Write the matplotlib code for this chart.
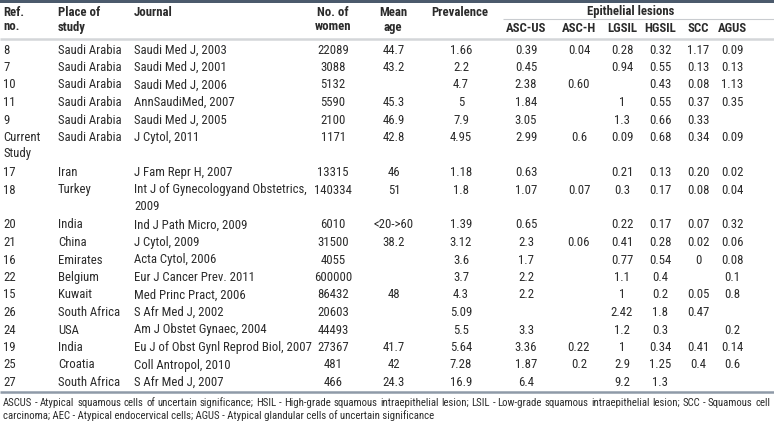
import matplotlib
matplotlib.use("Agg")
import matplotlib.pyplot as plt
from matplotlib import font_manager as fm

# register narrow / condensed faces that may not be in the cache yet
for path in fm.findSystemFonts():
    low = path.lower()
    if "narrow" in low or "condensed" in low:
        try:
            fm.fontManager.addfont(path)
        except Exception:
            pass
names = {f.name for f in fm.fontManager.ttflist}
STRETCH = "normal"
FAM = None
for cand in ["Roboto Condensed", "PT Sans Narrow", "Liberation Sans Narrow", "Archivo Narrow"]:
    if cand in names:
        FAM = [cand, "DejaVu Sans"]
        break
if FAM is None:
    FAM = ["DejaVu Sans"]
    STRETCH = "condensed"

# ---------------- data ----------------
refs = ["8", "7", "10", "11", "9", "Current\nStudy", "17", "18", "20", "21", "16",
        "22", "15", "26", "24", "19", "25", "27"]
places = ["Saudi Arabia", "Saudi Arabia", "Saudi Arabia", "Saudi Arabia", "Saudi Arabia",
          "Saudi Arabia", "Iran", "Turkey", "India", "China", "Emirates", "Belgium",
          "Kuwait", "South Africa", "USA", "India", "Croatia", "South Africa"]
journals = ["Saudi Med J, 2003", "Saudi Med J, 2001", "Saudi Med J, 2006",
            "AnnSaudiMed, 2007", "Saudi Med J, 2005", "J Cytol, 2011",
            "J Fam Repr H, 2007", "Int J of Gynecologyand Obstetrics,\n2009",
            "Ind J Path Micro, 2009", "J Cytol, 2009", "Acta Cytol, 2006",
            "Eur J Cancer Prev. 2011", "Med Princ Pract, 2006", "S Afr Med J, 2002",
            "Am J Obstet Gynaec, 2004", "Eu J of Obst Gynl Reprod Biol, 2007",
            "Coll Antropol, 2010", "S Afr Med J, 2007"]
women = ["22089", "3088", "5132", "5590", "2100", "1171", "13315", "140334", "6010",
         "31500", "4055", "600000", "86432", "20603", "44493", "27367", "481", "466"]
mean_age = ["44.7", "43.2", "", "45.3", "46.9", "42.8", "46", "51", "<20->60", "38.2",
            "", "", "48", "", "", "41.7", "42", "24.3"]
prevalence = ["1.66", "2.2", "4.7", "5", "7.9", "4.95", "1.18", "1.8", "1.39", "3.12",
              "3.6", "3.7", "4.3", "5.09", "5.5", "5.64", "7.28", "16.9"]
asc_us = ["0.39", "0.45", "2.38", "1.84", "3.05", "2.99", "0.63", "1.07", "0.65", "2.3",
          "1.7", "2.2", "2.2", "", "3.3", "3.36", "1.87", "6.4"]
asc_h = ["0.04", "", "0.60", "", "", "0.6", "", "0.07", "", "0.06", "", "", "", "", "",
         "0.22", "0.2", ""]
lgsil = ["0.28", "0.94", "", "1", "1.3", "0.09", "0.21", "0.3", "0.22", "0.41", "0.77",
         "1.1", "1", "2.42", "1.2", "1", "2.9", "9.2"]
hgsil = ["0.32", "0.55", "0.43", "0.55", "0.66", "0.68", "0.13", "0.17", "0.17", "0.28",
         "0.54", "0.4", "0.2", "1.8", "0.3", "0.34", "1.25", "1.3"]
scc = ["1.17", "0.13", "0.08", "0.37", "0.33", "0.34", "0.20", "0.08", "0.07", "0.02",
       "0", "", "0.05", "0.47", "", "0.41", "0.4", ""]
agus = ["0.09", "0.13", "1.13", "0.35", "", "0.09", "0.02", "0.04", "0.32", "0.06",
        "0.08", "0.1", "0.8", "", "0.2", "0.14", "0.6", ""]

lesion_headers = ["ASC-US", "ASC-H", "LGSIL", "HGSIL", "SCC", "AGUS"]
footnote = ("ASCUS - Atypical squamous cells of uncertain significance; HSIL - High-grade squamous "
            "intraepithelial lesion; LSIL - Low-grade squamous intraepithelial lesion; SCC - Squamous cell",
            "carcinoma; AEC - Atypical endocervical cells; AGUS - Atypical glandular cells of uncertain significance")

# ---------------- layout ----------------
W, H = 774, 424
fig = plt.figure(figsize=(W / 100, H / 100), dpi=100)
ax = fig.add_axes([0, 0, 1, 1])
ax.set_xlim(0, W)
ax.set_ylim(H, 0)
ax.axis("off")

TXT = "#2b2b2b"
FS = 9.2
kw = dict(family=FAM, fontstretch=STRETCH, color=TXT)

columns = [
    (refs, 3, "left"), (places, 58, "left"), (journals, 134, "left"),
    (women, 333, "center"), (mean_age, 394, "center"), (prevalence, 461, "center"),
    (asc_us, 526, "center"), (asc_h, 579, "center"), (lgsil, 622, "center"),
    (hgsil, 660, "center"), (scc, 698, "center"), (agus, 732, "center"),
]

# rules
ax.add_patch(plt.Rectangle((0, 0), W, 3.2, color="#4b5a6c", lw=0))
ax.plot([0, W], [39, 39], color="#d4d6d9", lw=1.8, solid_capstyle="butt")
ax.plot([503, W], [18.5, 18.5], color="#c9ccd0", lw=0.8, solid_capstyle="butt")
ax.plot([0, W], [392, 392], color="#8f9aa8", lw=1.8, solid_capstyle="butt")

# header
hkw = dict(kw, fontsize=FS, fontweight="bold", va="center")
ax.text(3, 12, "Ref.", ha="left", **hkw)
ax.text(3, 27, "no.", ha="left", **hkw)
ax.text(58, 12, "Place of", ha="left", **hkw)
ax.text(58, 27, "study", ha="left", **hkw)
ax.text(134, 12, "Journal", ha="left", **hkw)
ax.text(333, 12, "No. of", ha="center", **hkw)
ax.text(333, 27, "women", ha="center", **hkw)
ax.text(393, 12, "Mean", ha="center", **hkw)
ax.text(393, 27, "age", ha="center", **hkw)
ax.text(460, 12, "Prevalence", ha="center", **hkw)
ax.text(631, 11, "Epithelial lesions", ha="center", **hkw)
for (_, x, _a), lab in zip(columns[6:], lesion_headers):
    ax.text(x, 28, lab, ha="center", **hkw)

# body
PITCH = 17.5
INNER = 16
y = 50
dkw = dict(kw, fontsize=FS, va="center")
for i in range(len(refs)):
    nlines = 1
    for data, x, al in columns:
        lines = data[i].split("\n")
        nlines = max(nlines, len(lines))
        for k, s in enumerate(lines):
            if s:
                ax.text(x, y + k * INNER, s, ha=al, **dkw)
    y += PITCH * nlines

# footnote (first line justified to full width)
fkw = dict(kw, fontsize=FS * 0.9, va="center")
renderer = fig.canvas.get_renderer()
inv = ax.transData.inverted()


def text_width(a):
    bb = a.get_window_extent(renderer)
    return inv.transform((bb.x1, bb.y0))[0] - inv.transform((bb.x0, bb.y0))[0]


# size the footnote so the first line just fills the width
probe = ax.text(0, 0, footnote[0], **fkw)
wfull = text_width(probe)
probe.remove()
fkw["fontsize"] *= 764 / wfull

words = footnote[0].split(" ")
arts = [ax.text(0, 403, w_, ha="left", **fkw) for w_ in words]
widths = [text_width(a) for a in arts]
x0, x1 = 3, 770
gap = max((x1 - x0 - sum(widths)) / (len(words) - 1), 1.5)
xx = x0
for a, wd in zip(arts, widths):
    a.set_x(xx)
    xx += wd + gap
ax.text(3, 416, footnote[1], ha="left", **fkw)

fig.savefig("out.png", dpi=100)
